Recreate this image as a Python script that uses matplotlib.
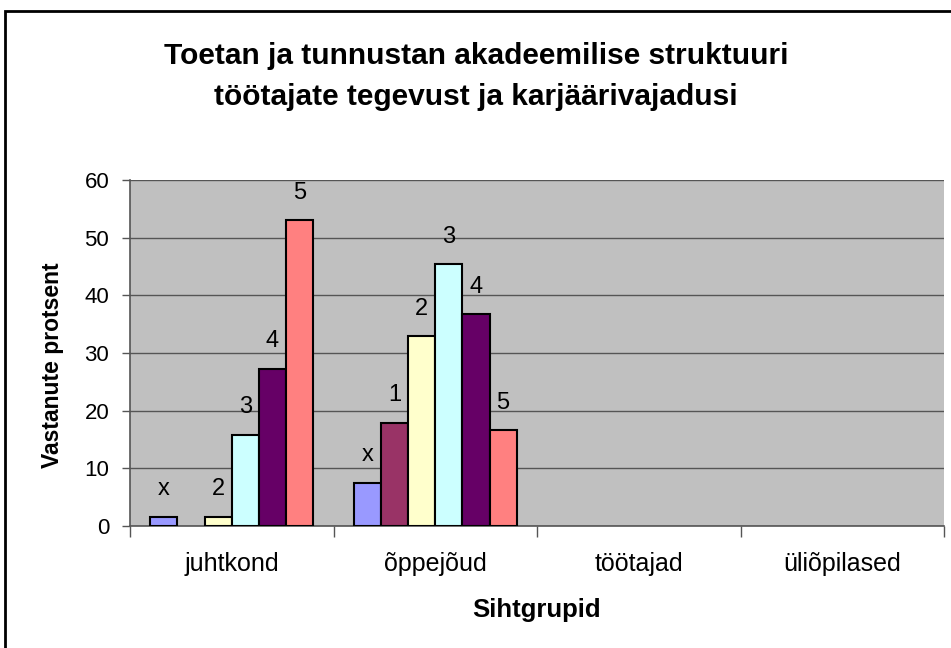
import numpy as np
import matplotlib.pyplot as plt
from matplotlib.patches import Rectangle

categories = ['juhtkond', 'õppejõud', 'töötajad', 'üliõpilased']
series = ['x', '1', '2', '3', '4', '5']
values = {
    'x': [1.6, 7.5, np.nan, np.nan],
    '1': [np.nan, 17.9, np.nan, np.nan],
    '2': [1.6, 32.9, np.nan, np.nan],
    '3': [15.8, 45.4, np.nan, np.nan],
    '4': [27.3, 36.7, np.nan, np.nan],
    '5': [53.0, 16.6, np.nan, np.nan],
}
colors = ['#9999FF', '#993366', '#FFFFCC', '#CCFFFF', '#660066', '#FF8080']

plt.rcParams['font.family'] = ['Liberation Sans', 'DejaVu Sans']

fig = plt.figure(figsize=(9.51, 6.48), dpi=100)
ax = fig.add_axes([130 / 951, 1 - 526 / 648, (944 - 130) / 951, 346 / 648])
ax.set_facecolor('#C0C0C0')

x = np.arange(len(categories))
w = 1 / 7.5
for i, s in enumerate(series):
    pos = x - 2.5 * w + i * w
    vals = values[s]
    ax.bar(pos, vals, w, color=colors[i], edgecolor='black', linewidth=1.5, zorder=3)
    for p, v in zip(pos, vals):
        if not np.isnan(v):
            ax.annotate(s, (p, v), xytext=(0, 15.5), textcoords='offset points',
                        ha='center', va='baseline', fontsize=17)

ax.set_xlim(-0.5, len(categories) - 0.5)
ax.set_ylim(0, 60)
ax.set_yticks(range(0, 61, 10))
ax.yaxis.grid(True, color='#555555', linewidth=1, zorder=0)
ax.set_axisbelow(True)

ax.set_xticks(x)
ax.set_xticklabels(categories, fontsize=18)
ax.set_xticks(np.arange(-0.5, len(categories)), minor=True)
ax.tick_params(axis='x', which='major', length=0, pad=19)
ax.tick_params(axis='x', which='minor', length=8, color='#555555', width=1)
ax.tick_params(axis='y', labelsize=16, length=6, color='#555555', width=1, pad=9)

for side in ['top', 'right']:
    ax.spines[side].set_visible(False)
for side in ['left', 'bottom']:
    ax.spines[side].set_color('#555555')
    ax.spines[side].set_linewidth(1.2)

fig.text(53 / 951, 1 - 365 / 648, 'Vastanute protsent', rotation=90, ha='center', va='center',
         fontsize=16.5, fontweight='bold')
fig.text(537 / 951, 1 - 617 / 648, 'Sihtgrupid', ha='center', va='baseline',
         fontsize=18.5, fontweight='bold')

fig.text(476 / 951, 1 - 64 / 648, 'Toetan ja tunnustan akadeemilise struktuuri',
         ha='center', va='baseline', fontsize=21.5, fontweight='bold')
fig.text(476 / 951, 1 - 105 / 648, 'töötajate tegevust ja karjäärivajadusi',
         ha='center', va='baseline', fontsize=21.5, fontweight='bold')

fig.patches.append(Rectangle((5 / 951, -0.1), 1.2, 1.1 - 11 / 648, transform=fig.transFigure,
                             fill=False, edgecolor='black', linewidth=2))

fig.savefig('out.png', dpi=100)
